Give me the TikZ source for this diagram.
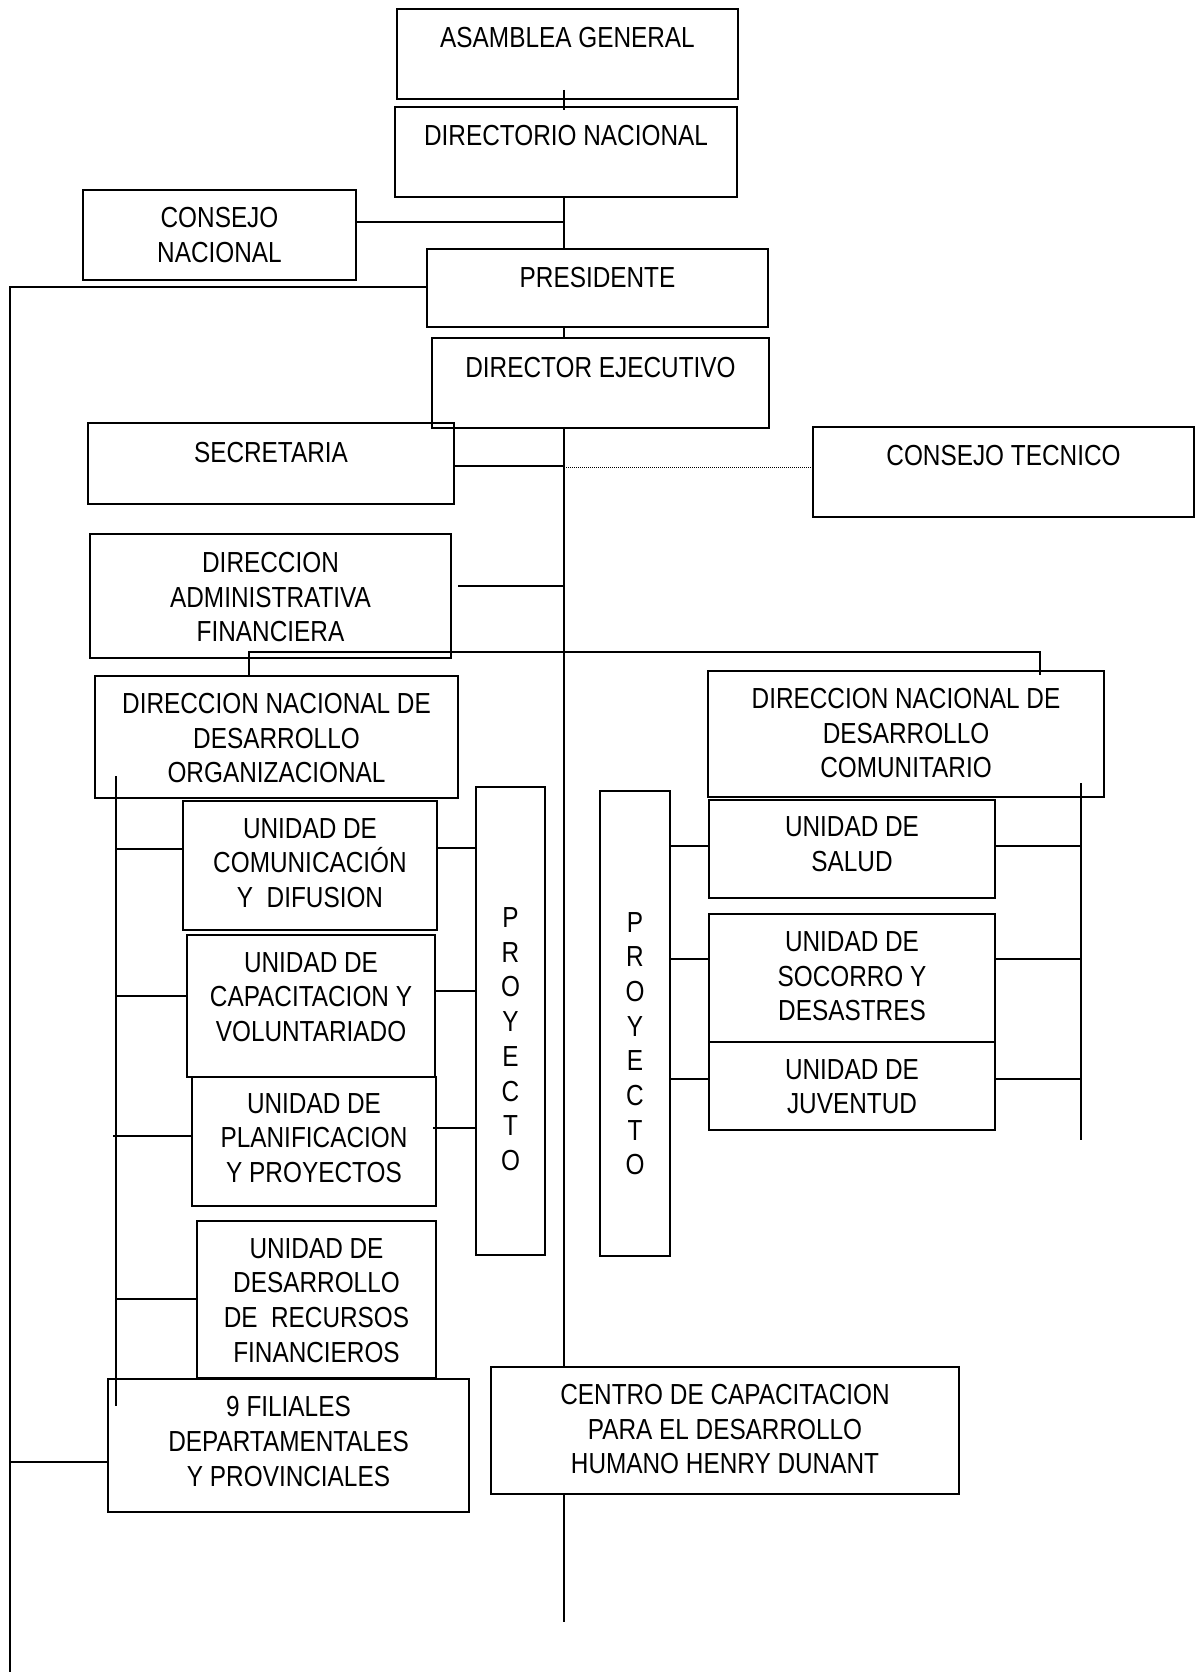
\documentclass[tikz,border=0pt]{standalone}
\usepackage{fontspec}
\setmainfont{Liberation Sans}[FakeStretch=0.84]
\usetikzlibrary{calc}
\newcommand\orgfont{\fontsize{29}{34.7}\selectfont}
\tikzset{
  box/.style={draw, line width=2pt, inner sep=0pt, outer sep=0pt},
  txt/.style={inner sep=0pt, outer sep=0pt, align=center, font=\orgfont},
  link/.style={line width=1.6pt},
  dotline/.style={line width=1pt, densely dotted},
}
% box: name, left, top, right, bottom, centre of first text line, text
\newcommand\orgbox[7]{%
  \node[box, minimum width={(#4-#2)*1pt}, minimum height={(#5-#3)*1pt}] (#1) at ({(#2+#4)/2},{(#3+#5)/2}) {};
  \node[txt, anchor=north] (#1-t) at ({(#2+#4)/2},{#6-10.4}) {#7};
}
\begin{document}
\begin{tikzpicture}[x=1pt, y=-1pt]
\useasboundingbox (0,0) rectangle (1202,1672);

% upper governing bodies
\orgbox{ag}{397}{9}{738}{99}{37.5}{ASAMBLEA GENERAL}
\orgbox{dn}{395}{107}{737}{197}{135.5}{DIRECTORIO NACIONAL}
\orgbox{cn}{83}{190}{356}{280}{217.5}{CONSEJO\\NACIONAL}
\orgbox{pres}{427}{249}{768}{327}{278}{PRESIDENTE}
\orgbox{de}{432}{338}{769}{428}{367.5}{DIRECTOR EJECUTIVO}
\orgbox{sec}{88}{423}{454}{504}{452.5}{SECRETARIA}
\orgbox{ct}{813}{427}{1194}{517}{456}{CONSEJO TECNICO}
\orgbox{adm}{90}{534}{451}{658}{562.5}{DIRECCION\\ADMINISTRATIVA\\FINANCIERA}

% national directorates
\orgbox{dndo}{95}{676}{458}{798}{703.5}{DIRECCION NACIONAL DE\\DESARROLLO\\ORGANIZACIONAL}
\orgbox{dndc}{708}{671}{1104}{797}{698.5}{DIRECCION NACIONAL DE\\DESARROLLO\\COMUNITARIO}

% organisational units
\orgbox{u1}{183}{801}{437}{930}{828.5}{UNIDAD DE\\COMUNICACIÓN\\Y~~DIFUSION}
\orgbox{u2}{187}{935}{435}{1077}{962.5}{UNIDAD DE\\CAPACITACION Y\\VOLUNTARIADO}
\orgbox{u3}{192}{1077}{436}{1206}{1103.5}{UNIDAD DE\\PLANIFICACION\\Y PROYECTOS}
\orgbox{u4}{197}{1221}{436}{1378}{1248.5}{UNIDAD DE\\DESARROLLO\\DE~~RECURSOS\\FINANCIEROS}

% project columns
\orgbox{pl}{476}{787}{545}{1255}{918}{P\\R\\O\\Y\\E\\C\\T\\O}
\orgbox{pr}{600}{791}{670}{1256}{922.5}{P\\R\\O\\Y\\E\\C\\T\\O}

% community units
\orgbox{sal}{709}{800}{995}{898}{827}{UNIDAD DE\\SALUD}
\orgbox{soc}{709}{914}{995}{1042}{942}{UNIDAD DE\\SOCORRO Y\\DESASTRES}
\orgbox{juv}{709}{1042}{995}{1130}{1069.5}{UNIDAD DE\\JUVENTUD}

% branches and training centre
\orgbox{fil}{108}{1379}{469}{1512}{1407}{9 FILIALES\\DEPARTAMENTALES\\Y PROVINCIALES}
\orgbox{cen}{491}{1367}{959}{1494}{1394.5}{CENTRO DE CAPACITACION\\PARA EL DESARROLLO\\HUMANO HENRY DUNANT}

% junction points of the connector network
\coordinate (tx) at (564,0);
\coordinate (jcn) at (564,222);
\coordinate (jpres) at (10,287);
\coordinate (railend) at (10,1672);
\coordinate (jsec) at (564,466);
\coordinate (jct) at (564,467);
\coordinate (jadm) at (564,586);
\coordinate (hL) at (249,652);
\coordinate (hR) at (1040,652);
\coordinate (bT) at (116,776);
\coordinate (bB) at (116,1406);
\coordinate (ju1) at (116,849);
\coordinate (ju2) at (116,996);
\coordinate (ju3) at (113,1136);
\coordinate (ju4) at (116,1299);
\coordinate (kp1) at (0,848);
\coordinate (kp2) at (0,991);
\coordinate (kp3) at (0,1128);
\coordinate (ks1) at (0,846);
\coordinate (ks2) at (0,959);
\coordinate (ks3) at (0,1079);
\coordinate (rT) at (1081,783);
\coordinate (rB) at (1081,1140);
\coordinate (jfil) at (10,1462);
\coordinate (trunkend) at (564,1622);

% main trunk
\draw[link] ($(ag.south -| tx)+(0,-9)$) -- ($(dn.north -| tx)+(0,3)$);
\draw[link] (dn.south -| tx) -- (pres.north -| tx);
\draw[link] (pres.south -| tx) -- (de.north -| tx);
\draw[link] (de.south -| tx) -- (cen.north -| tx);
\draw[link] (cen.south -| tx) -- (trunkend);

% side links from the trunk
\draw[link] (cn.east |- jcn) -- (jcn);
\draw[link] (sec.east |- jsec) -- (jsec);
\draw[dotline] (jct) -- (ct.west |- jct);
\draw[link] ($(adm.east |- jadm)+(7,0)$) -- (jadm);

% outer rail from the president down to the branches
\draw[link] (pres.west |- jpres) -- (jpres) -- (railend);
\draw[link] (jfil) -- (fil.west |- jfil);

% link to both national directorates
\draw[link] (hL |- dndo.north) -- (hL) -- (hR) -- ($(hR |- dndc.north)+(0,4)$);

% organisational bracket
\draw[link] (bT) -- (bB);
\draw[link] (ju1) -- (u1.west |- ju1);
\draw[link] (ju2) -- (u2.west |- ju2);
\draw[link] (ju3) -- (u3.west |- ju3);
\draw[link] (ju4) -- (u4.west |- ju4);
\draw[link] (u1.east |- kp1) -- (pl.west |- kp1);
\draw[link] (u2.east |- kp2) -- (pl.west |- kp2);
\draw[link] ($(u3.east |- kp3)+(-3,0)$) -- (pl.west |- kp3);

% community bracket
\draw[link] (rT) -- (rB);
\draw[link] (pr.east |- ks1) -- (sal.west |- ks1);
\draw[link] (pr.east |- ks2) -- (soc.west |- ks2);
\draw[link] (pr.east |- ks3) -- (juv.west |- ks3);
\draw[link] (sal.east |- ks1) -- (rT |- ks1);
\draw[link] (soc.east |- ks2) -- (rT |- ks2);
\draw[link] (juv.east |- ks3) -- (rT |- ks3);
\end{tikzpicture}
\end{document}
